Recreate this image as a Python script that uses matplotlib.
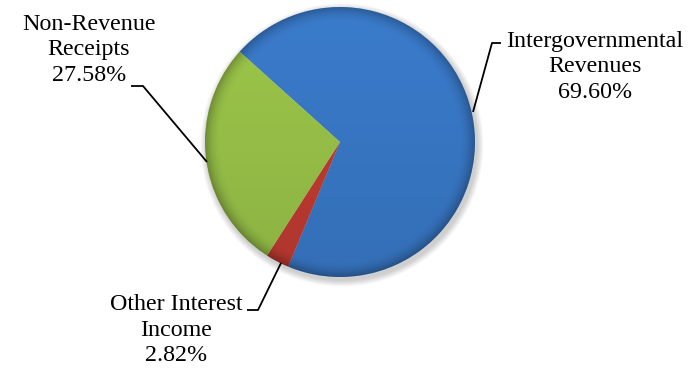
import matplotlib
matplotlib.use('Agg')
import numpy as np
import matplotlib.pyplot as plt
from matplotlib.patches import Circle

labels = ['Intergovernmental\nRevenues', 'Other Interest\nIncome', 'Non-Revenue\nReceipts']
shares = [69.60, 2.82, 27.58]
colors = ['#3a7bcb', '#c33c33', '#9cc64a']

plt.rcParams['font.family'] = 'Liberation Serif'

fig = plt.figure(figsize=(6.98, 3.69), dpi=100)
ax = fig.add_axes([0, 0, 1, 1])

cx, cy, r = 340, 227, 135

# soft shadow under the pie
for k in range(8):
    ax.add_patch(Circle((cx + 2, cy - 3), r + 1 + k * 0.8, color='k', alpha=0.025, lw=0, zorder=0))

wedges, _ = ax.pie(shares, colors=colors, startangle=138, counterclock=False,
                   center=(cx, cy), radius=r, frame=True,
                   wedgeprops=dict(edgecolor='none', linewidth=0))
for w in wedges:
    w.set_zorder(2)

# shading: lighter at top, darker at bottom, darker rim
yy, xx = np.mgrid[0:1:300j, 0:1:300j]
shade = np.zeros((300, 300, 4))
dist = np.hypot(xx - 0.5, yy - 0.5) * 2
rim = np.clip((dist - 0.88) / 0.12, 0, 1)
shade[..., 3] = 0.10 * yy + 0.25 * rim ** 2
clip = Circle((cx, cy), r, transform=ax.transData)
im = ax.imshow(shade, extent=(cx - r, cx + r, cy - r, cy + r), origin='upper', zorder=3)
im.set_clip_path(clip)

# labels with leader lines
pcts = ['%.2f%%' % v for v in shares]
pos = [(595, 302), (176, 39), (89, 319)]
for lab, p, (x, y) in zip(labels, pcts, pos):
    ax.text(x, y, lab + '\n' + p, ha='center', va='center', fontsize=17.3,
            linespacing=1.26, zorder=5)

leaders = [([473, 492, 501], [257, 326, 326]),
           ([281, 258, 247], [106, 59, 59]),
           ([207, 143, 131], [207, 283, 283])]
for lx, ly in leaders:
    ax.plot(lx, ly, color='k', lw=1.3, zorder=4, solid_capstyle='butt')

ax.set_xlim(0, 698)
ax.set_ylim(0, 369)
ax.set_aspect('equal')
ax.axis('off')

fig.savefig('out.png', dpi=100)
